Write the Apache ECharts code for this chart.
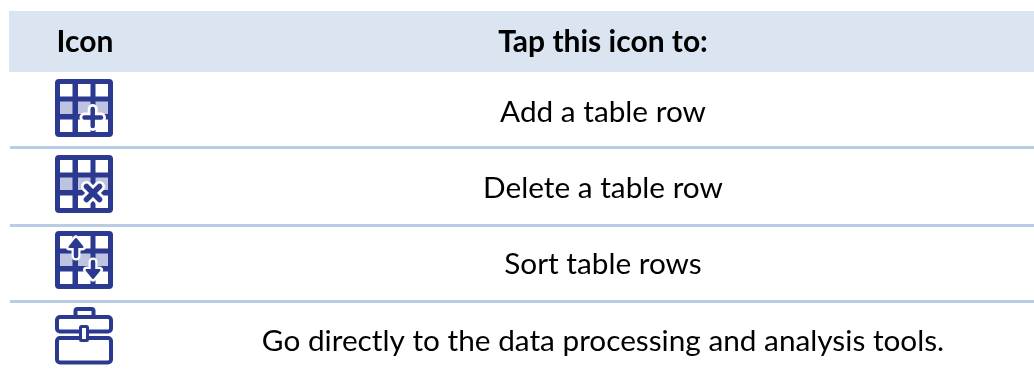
<!DOCTYPE html>
<html>
<head>
<meta charset="utf-8">
<style>
  html, body { margin: 0; background: #fff; }
  #chart { width: 1034px; height: 374px; }
</style>
<script src="https://cdn.jsdelivr.net/npm/echarts@6/dist/echarts.min.js"></script>
</head>
<body>
<div id="chart"></div>
<script>
const headers = ['Icon', 'Tap this icon to:']
const icons = ['add', 'delete', 'sort', 'toolbox']
const actions = [
  'Add a table row',
  'Delete a table row',
  'Sort table rows',
  'Go directly to the data processing and analysis tools.'
]

const NAVY = '#2b3990'
const SHADE = '#bec3e0'
const FONT = 'Lato'

const rect = (x, y, width, height, fill, r) => ({
  type: 'rect', shape: { x, y, width, height, r: r || 0 }, style: { fill }
})
const line = (points, stroke, lineWidth) => ({
  type: 'polyline', shape: { points },
  style: { fill: null, stroke, lineWidth, lineCap: 'round', lineJoin: 'round' }
})

// navy rounded square with three rows of three cells, middle row shaded
function gridIcon() {
  const parts = [rect(0, 0, 58, 58, NAVY, 4)]
  const cols = [5, 23, 40.5]
  const rows = [5, 22.5, 40.5]
  rows.forEach((y, r) => cols.forEach(x => {
    parts.push(rect(x, y, 12.5, 12.5, r === 1 ? SHADE : '#fff'))
  }))
  return parts
}

// up/down arrow: white halo first, then the navy arrow over it
function arrow(cx, tip, tail, dir) {
  const head = dir * 8
  const shaft = [[cx, tail], [cx, tip + head]]
  const headPts = [[cx - 6.5, tip + head], [cx, tip], [cx + 6.5, tip + head]]
  const tri = (fill, stroke, lw) => ({
    type: 'polygon', shape: { points: headPts },
    style: { fill, stroke, lineWidth: lw, lineJoin: 'round' }
  })
  return [
    line(shaft, '#fff', 9), tri('#fff', '#fff', 7),
    line(shaft, NAVY, 4.5), tri(NAVY, NAVY, 2)
  ]
}

const drawIcon = {
  add: () => {
    const h = [[29.5, 38.5], [46, 38.5]]
    const v = [[37.7, 30], [37.7, 47]]
    return gridIcon().concat(
      line(h, '#fff', 10), line(v, '#fff', 10),
      line(h, NAVY, 4.5), line(v, NAVY, 4.5)
    )
  },
  delete: () => {
    const a = [[31.5, 31.5], [44.5, 44.5]]
    const b = [[44.5, 31.5], [31.5, 44.5]]
    return gridIcon().concat(
      line(a, '#fff', 11), line(b, '#fff', 11),
      line(a, NAVY, 5.5), line(b, NAVY, 5.5)
    )
  },
  sort: () => gridIcon().concat(
    arrow(21, 8, 25, 1),
    arrow(38, 47, 31, -1)
  ),
  toolbox: () => {
    const box = (x, y, width, height, r, lineWidth) => ({
      type: 'rect', shape: { x, y, width, height, r },
      style: { fill: '#fff', stroke: NAVY, lineWidth }
    })
    return [
      box(20.5, 2, 18, 10, 2, 4),
      box(2, 10, 54, 14.5, 3, 4),
      box(2, 31, 54, 24.5, 3, 4),
      box(25.5, 19.5, 7, 14, 1, 3)
    ]
  }
}

const myChart = echarts.init(document.getElementById('chart'), null, { renderer: 'canvas' })

const option = {
  animation: false,
  backgroundColor: '#fff',
  grid: { left: 0, right: 0, top: 69.5, height: 309.3 },
  xAxis: { type: 'value', min: 0, max: 1034, show: false },
  yAxis: { type: 'category', inverse: true, data: icons, show: false },
  graphic: [
    { type: 'rect', z: 0, shape: { x: 9, y: 11, width: 1025, height: 61 }, style: { fill: '#dbe5f1' } },
    { type: 'text', z: 1, x: 85, y: 42, style: { text: headers[0], font: 'bold 30px ' + FONT, fill: '#000', align: 'center', verticalAlign: 'middle' } },
    { type: 'text', z: 1, x: 603, y: 42, style: { text: headers[1], font: 'bold 30px ' + FONT, fill: '#000', align: 'center', verticalAlign: 'middle' } },
    { type: 'rect', z: 1, shape: { x: 10, y: 146, width: 1024, height: 3 }, style: { fill: '#b8cce4' } },
    { type: 'rect', z: 1, shape: { x: 10, y: 224, width: 1024, height: 3 }, style: { fill: '#b8cce4' } },
    { type: 'rect', z: 1, shape: { x: 10, y: 300, width: 1024, height: 3 }, style: { fill: '#b8cce4' } }
  ],
  series: [{
    type: 'custom',
    silent: true,
    coordinateSystem: 'cartesian2d',
    encode: { x: 0, y: 1 },
    data: actions.map((text, i) => [603, i]),
    renderItem: (params, api) => {
      const i = params.dataIndex
      const [x, y] = api.coord([api.value(0), i])
      return {
        type: 'group',
        children: [
          {
            type: 'group', x: 55, y: Math.round(y - 29),
            children: drawIcon[icons[i]]()
          },
          {
            type: 'text', x, y: y + 5,
            style: { text: actions[i], font: '29.75px ' + FONT, fill: '#000', align: 'center', verticalAlign: 'middle' }
          }
        ]
      }
    }
  }]
}

myChart.setOption(option)
</script>
</body>
</html>
